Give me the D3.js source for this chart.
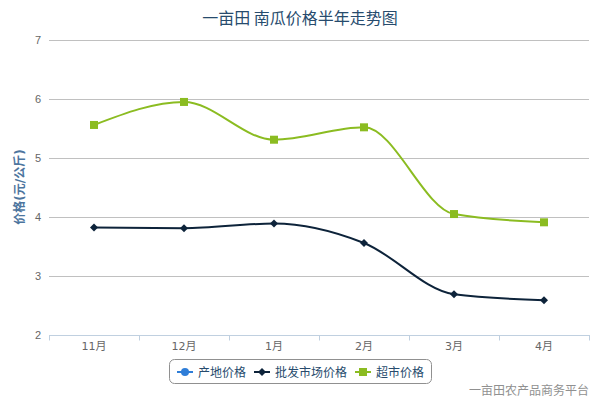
<!DOCTYPE html>
<html><head><meta charset="utf-8">
<script src="https://cdn.jsdelivr.net/npm/d3@7"></script>
<style>body{margin:0;background:#fff}svg{display:block;font-family:"DejaVu Sans","Noto Sans CJK SC",sans-serif}</style>
</head><body><svg id="c" width="600" height="400"></svg>
<script>
const categories = ["11月","12月","1月","2月","3月","4月"];
const originPrice = [];
const wholesalePrice = [3.82,3.81,3.89,3.56,2.69,2.59];
const supermarketPrice = [5.56,5.95,5.31,5.52,4.05,3.91];
const yTicks = [2,3,4,5,6,7];
const seriesNames = ["产地价格","批发市场价格","超市价格"];
const colors = ["#2f7ed8","#0d233a","#8bbc21"];

const svg = d3.select("#c");
const L=49, R=589, T=40, B=335;
const x = d3.scaleBand().domain(categories).range([L,R]).padding(0);
const y = d3.scaleLinear().domain([2,7]).range([B,T]);
const cx = d => x(d)+x.bandwidth()/2;

// title
svg.append("text").attr("x",300).attr("y",24).attr("text-anchor","middle")
  .attr("fill","#274b6d").style("font-size","16px").style("font-family","'Noto Sans CJK SC',sans-serif").text("一亩田 南瓜价格半年走势图");

// grid
const yAxis = svg.append("g").attr("transform",`translate(${L},0)`)
  .call(d3.axisLeft(y).tickValues(yTicks).tickSize(-(R-L)).tickFormat(d3.format("d")));
yAxis.select(".domain").remove();
yAxis.selectAll(".tick line").attr("stroke","#c0c0c0").attr("stroke-width",1);
yAxis.selectAll(".tick text").attr("x",-8).attr("fill","#666").style("font-size","11px");
yAxis.selectAll(".tick").filter(d=>d===2).select("line").remove();

// x axis
const xAxisG = svg.append("g").attr("transform",`translate(0,${B+0.5})`);
xAxisG.append("line").attr("x1",L).attr("x2",R+1).attr("stroke","#C0D0E0");
const tickPos = categories.map(c=>x(c)).concat([R]);
xAxisG.selectAll("line.tk").data(tickPos).join("line").attr("class","tk")
  .attr("x1",d=>Math.round(d)+0.5).attr("x2",d=>Math.round(d)+0.5).attr("y1",0).attr("y2",5).attr("stroke","#C0D0E0");
xAxisG.selectAll("text").data(categories).join("text")
  .attr("x",d=>cx(d)).attr("y",14).attr("text-anchor","middle").attr("fill","#666")
  .style("font-size","11px").text(d=>d);

// y title
svg.append("text").attr("transform","translate(24,187) rotate(-90)").attr("text-anchor","middle")
  .attr("fill","#4d759e").style("font-size","12px").style("font-weight","bold").text("价格(元/公斤)");

const line = d3.line().x((d,i)=>cx(categories[i])).y(d=>y(d)).curve(d3.curveMonotoneX);
const series = [originPrice, wholesalePrice, supermarketPrice];
series.forEach((s,k)=>{
  if(!s.length) return;
  svg.append("path").attr("d",line(s)).attr("fill","none").attr("stroke",colors[k]).attr("stroke-width",2);
});
// markers
const dia = (px,py,r)=>`M${px},${py-r}L${px+r},${py}L${px},${py+r}L${px-r},${py}Z`;
svg.append("g").selectAll("path").data(wholesalePrice).join("path")
  .attr("d",(d,i)=>dia(cx(categories[i]),y(d),4)).attr("fill",colors[1]);
svg.append("g").selectAll("rect").data(supermarketPrice).join("rect")
  .attr("x",(d,i)=>cx(categories[i])-4).attr("y",d=>y(d)-4).attr("width",8).attr("height",8).attr("fill",colors[2]);

// legend
const lg = svg.append("g");
lg.append("rect").attr("x",169.5).attr("y",359.5).attr("width",262).attr("height",24).attr("rx",5)
  .attr("fill","none").attr("stroke","#909090");
const itemX = [177,254,355];
seriesNames.forEach((n,k)=>{
  const g = lg.append("g").attr("transform",`translate(${itemX[k]},372)`);
  g.append("line").attr("x1",0).attr("x2",16).attr("stroke",colors[k]).attr("stroke-width",2);
  if(k===0) g.append("circle").attr("cx",8).attr("cy",0).attr("r",4).attr("fill",colors[k]);
  if(k===1) g.append("path").attr("d",dia(8,0,4)).attr("fill",colors[k]);
  if(k===2) g.append("rect").attr("x",4).attr("y",-4).attr("width",8).attr("height",8).attr("fill",colors[k]);
  g.append("text").attr("x",21).attr("y",5).attr("fill","#274b6d").style("font-size","12px")
    .style("font-family","'Noto Sans CJK SC',sans-serif").text(n);
});

// credits
svg.append("text").attr("x",589).attr("y",395).attr("text-anchor","end").attr("fill","#909090")
  .style("font-size","12px").style("font-family","'Noto Sans CJK SC',sans-serif").text("一亩田农产品商务平台");
</script></body></html>
